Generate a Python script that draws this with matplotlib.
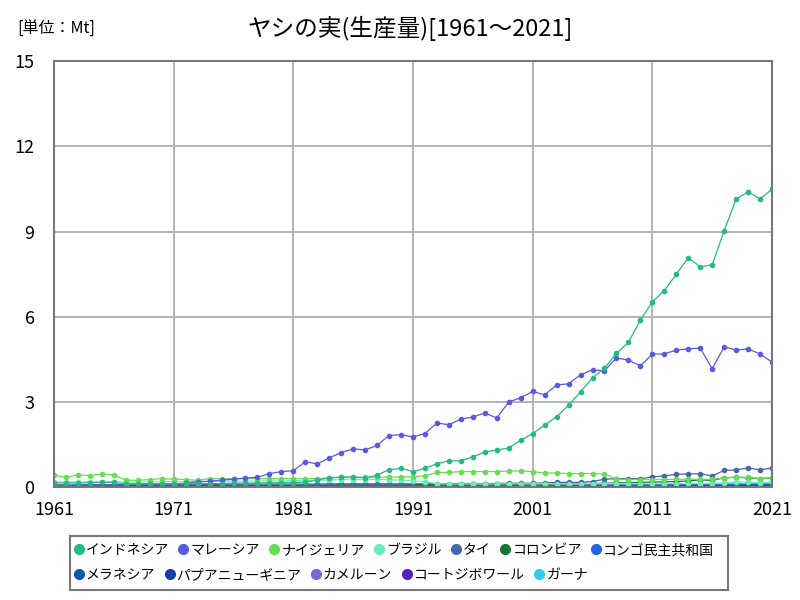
import matplotlib
matplotlib.use("Agg")
import matplotlib.pyplot as plt
from matplotlib.patches import Rectangle
from matplotlib.lines import Line2D

plt.rcParams['font.family'] = ['Noto Sans CJK JP', 'DejaVu Sans']

years = list(range(1961, 2022))

# 生産量 (Mt) 1961-2021
indonesia = [0.15, 0.15, 0.15, 0.16, 0.17, 0.17, 0.12, 0.12, 0.12, 0.12,
             0.12, 0.12, 0.12, 0.13, 0.13, 0.14, 0.14, 0.15, 0.15, 0.16,
             0.16, 0.18, 0.25, 0.33, 0.35, 0.35, 0.33, 0.42, 0.62, 0.66,
             0.55, 0.66, 0.83, 0.93, 0.93, 1.07, 1.24, 1.31, 1.38, 1.65,
             1.89, 2.19, 2.48, 2.89, 3.36, 3.85, 4.19, 4.71, 5.10, 5.88,
             6.53, 6.92, 7.50, 8.08, 7.76, 7.83, 9.03, 10.15, 10.40, 10.15, 10.49]
malaysia = [0.06, 0.06, 0.07, 0.07, 0.08, 0.08, 0.09, 0.10, 0.10, 0.11,
            0.12, 0.14, 0.19, 0.21, 0.25, 0.28, 0.33, 0.35, 0.48, 0.55,
            0.58, 0.90, 0.82, 1.03, 1.22, 1.35, 1.31, 1.47, 1.82, 1.85,
            1.77, 1.89, 2.26, 2.20, 2.40, 2.47, 2.61, 2.44, 3.00, 3.15,
            3.37, 3.25, 3.60, 3.64, 3.96, 4.13, 4.10, 4.55, 4.48, 4.27,
            4.69, 4.69, 4.83, 4.87, 4.90, 4.17, 4.94, 4.83, 4.87, 4.69, 4.41]
nigeria = [0.42, 0.35, 0.43, 0.41, 0.47, 0.43, 0.25, 0.24, 0.27, 0.30,
           0.28, 0.27, 0.24, 0.30, 0.30, 0.30, 0.30, 0.30, 0.30, 0.30,
           0.30, 0.30, 0.30, 0.33, 0.35, 0.36, 0.35, 0.35, 0.36, 0.36,
           0.37, 0.40, 0.52, 0.52, 0.55, 0.55, 0.55, 0.55, 0.57, 0.57,
           0.55, 0.50, 0.50, 0.48, 0.48, 0.48, 0.48, 0.28, 0.27, 0.27,
           0.27, 0.27, 0.28, 0.28, 0.28, 0.28, 0.33, 0.35, 0.35, 0.30, 0.33]
brazil = [0.18, 0.18, 0.18, 0.19, 0.19, 0.19, 0.18, 0.18, 0.19, 0.19,
          0.20, 0.20, 0.20, 0.20, 0.21, 0.21, 0.21, 0.22, 0.22, 0.22,
          0.23, 0.23, 0.24, 0.25, 0.27, 0.27, 0.27, 0.28, 0.26, 0.25,
          0.22, 0.20, 0.12, 0.11, 0.11, 0.12, 0.11, 0.11, 0.12, 0.12,
          0.12, 0.12, 0.12, 0.12, 0.12, 0.13, 0.13, 0.13, 0.13, 0.13,
          0.13, 0.13, 0.13, 0.13, 0.13, 0.13, 0.16, 0.18, 0.18, 0.16, 0.18]
thailand = [0.08, 0.08, 0.08, 0.09, 0.09, 0.09, 0.09, 0.10, 0.10, 0.10,
            0.10, 0.10, 0.10, 0.10, 0.10, 0.11, 0.11, 0.11, 0.11, 0.11,
            0.11, 0.11, 0.11, 0.12, 0.12, 0.12, 0.12, 0.12, 0.12, 0.12,
            0.12, 0.12, 0.12, 0.13, 0.13, 0.13, 0.13, 0.13, 0.14, 0.14,
            0.14, 0.15, 0.17, 0.17, 0.17, 0.20, 0.28, 0.30, 0.30, 0.30,
            0.36, 0.40, 0.45, 0.47, 0.47, 0.40, 0.59, 0.61, 0.68, 0.61, 0.68]
colombia = [0.05, 0.05, 0.05, 0.05, 0.05, 0.05, 0.05, 0.05, 0.06, 0.06,
            0.06, 0.06, 0.06, 0.06, 0.06, 0.06, 0.07, 0.07, 0.07, 0.07,
            0.07, 0.07, 0.07, 0.08, 0.08, 0.08, 0.08, 0.08, 0.08, 0.08,
            0.09, 0.09, 0.09, 0.09, 0.09, 0.10, 0.10, 0.10, 0.10, 0.10,
            0.11, 0.11, 0.12, 0.12, 0.13, 0.13, 0.14, 0.15, 0.16, 0.17,
            0.18, 0.19, 0.20, 0.22, 0.26, 0.24, 0.33, 0.35, 0.33, 0.30, 0.33]
congo = [0.04, 0.04, 0.04, 0.04, 0.04, 0.04, 0.04, 0.04, 0.04, 0.04,
         0.05, 0.05, 0.05, 0.05, 0.05, 0.05, 0.05, 0.05, 0.05, 0.05,
         0.06, 0.06, 0.06, 0.06, 0.06, 0.06, 0.06, 0.06, 0.06, 0.06,
         0.07, 0.07, 0.07, 0.07, 0.07, 0.07, 0.07, 0.07, 0.07, 0.07,
         0.07, 0.07, 0.07, 0.07, 0.08, 0.08, 0.08, 0.08, 0.08, 0.08,
         0.08, 0.08, 0.09, 0.09, 0.09, 0.09, 0.09, 0.10, 0.10, 0.10, 0.10]
melanesia = [0.06, 0.06, 0.06, 0.06, 0.06, 0.06, 0.06, 0.06, 0.06, 0.06,
             0.06, 0.06, 0.06, 0.06, 0.06, 0.06, 0.06, 0.06, 0.06, 0.06,
             0.06, 0.06, 0.06, 0.06, 0.06, 0.06, 0.06, 0.06, 0.06, 0.06,
             0.06, 0.06, 0.06, 0.06, 0.06, 0.06, 0.06, 0.06, 0.06, 0.06,
             0.06, 0.06, 0.06, 0.06, 0.06, 0.06, 0.06, 0.06, 0.06, 0.06,
             0.06, 0.06, 0.06, 0.06, 0.06, 0.06, 0.06, 0.06, 0.06, 0.06, 0.06]
png = [0.04, 0.04, 0.04, 0.04, 0.04, 0.04, 0.04, 0.04, 0.04, 0.04,
       0.04, 0.04, 0.04, 0.04, 0.04, 0.04, 0.04, 0.04, 0.04, 0.04,
       0.04, 0.04, 0.04, 0.04, 0.04, 0.04, 0.04, 0.04, 0.04, 0.04,
       0.04, 0.04, 0.04, 0.04, 0.04, 0.04, 0.04, 0.04, 0.04, 0.04,
       0.04, 0.04, 0.04, 0.04, 0.04, 0.04, 0.04, 0.04, 0.04, 0.04,
       0.04, 0.04, 0.04, 0.04, 0.04, 0.04, 0.04, 0.04, 0.04, 0.04, 0.04]
cameroon = [0.02, 0.02, 0.02, 0.02, 0.02, 0.02, 0.02, 0.02, 0.02, 0.02,
            0.02, 0.02, 0.02, 0.02, 0.02, 0.02, 0.02, 0.02, 0.02, 0.02,
            0.03, 0.03, 0.03, 0.03, 0.03, 0.03, 0.03, 0.03, 0.03, 0.03,
            0.03, 0.03, 0.03, 0.03, 0.03, 0.03, 0.03, 0.03, 0.03, 0.03,
            0.03, 0.03, 0.03, 0.03, 0.03, 0.03, 0.03, 0.03, 0.04, 0.04,
            0.04, 0.04, 0.04, 0.04, 0.04, 0.04, 0.04, 0.04, 0.04, 0.04, 0.04]
ivory = [0.02, 0.02, 0.02, 0.02, 0.02, 0.02, 0.02, 0.02, 0.02, 0.02,
         0.02, 0.02, 0.02, 0.02, 0.02, 0.02, 0.03, 0.03, 0.03, 0.03,
         0.03, 0.03, 0.03, 0.03, 0.03, 0.03, 0.03, 0.03, 0.03, 0.03,
         0.03, 0.03, 0.03, 0.03, 0.03, 0.03, 0.03, 0.03, 0.03, 0.03,
         0.03, 0.03, 0.03, 0.03, 0.03, 0.03, 0.03, 0.03, 0.03, 0.03,
         0.03, 0.03, 0.03, 0.03, 0.03, 0.03, 0.03, 0.03, 0.03, 0.03, 0.03]
ghana = [0.03, 0.03, 0.03, 0.03, 0.03, 0.03, 0.03, 0.03, 0.03, 0.03,
         0.03, 0.03, 0.03, 0.03, 0.03, 0.03, 0.03, 0.03, 0.03, 0.03,
         0.03, 0.03, 0.03, 0.03, 0.03, 0.03, 0.03, 0.03, 0.03, 0.04,
         0.04, 0.04, 0.04, 0.04, 0.04, 0.04, 0.04, 0.05, 0.05, 0.05,
         0.05, 0.05, 0.05, 0.05, 0.06, 0.06, 0.06, 0.06, 0.07, 0.07,
         0.08, 0.08, 0.09, 0.09, 0.10, 0.10, 0.11, 0.12, 0.12, 0.13, 0.13]

names = ['インドネシア', 'マレーシア', 'ナイジェリア', 'ブラジル', 'タイ', 'コロンビア',
         'コンゴ民主共和国', 'メラネシア', 'パプアニューギニア', 'カメルーン',
         'コートジボワール', 'ガーナ']
series = [indonesia, malaysia, nigeria, brazil, thailand, colombia,
          congo, melanesia, png, cameroon, ivory, ghana]
colors = ['#26b888', '#5a5ae0', '#66dd55', '#66eebb', '#4466aa', '#117733',
          '#2266dd', '#1155aa', '#1140aa', '#7766dd', '#5522bb', '#33ccee']

fig = plt.figure(figsize=(8, 6), dpi=100)
ax = fig.add_axes([0.0675, 0.188, 0.8975, 0.71])

# 小さい系列が下に来るよう逆順に描く
for name, vals, c in reversed(list(zip(names, series, colors))):
    ax.plot(years, vals, color=c, lw=0.9, marker='o', markersize=3, label=name)

ax.set_xlim(1961, 2021)
ax.set_ylim(0, 15)
ax.set_xticks(range(1961, 2022, 10))
ax.set_yticks(range(0, 16, 3))
ax.grid(True, color='#b4b4b4', lw=1.4)
ax.set_axisbelow(True)
for s in ax.spines.values():
    s.set_color('#777777')
    s.set_linewidth(1.5)
ax.tick_params(length=0, labelsize=13)
ax.tick_params(axis='x', pad=10)
ax.tick_params(axis='y', pad=14)

fig.text(0.5125, 0.953, 'ヤシの実(生産量)[1961～2021]', ha='center', va='center', fontsize=17)
fig.text(0.022, 0.951, '[単位：Mt]', ha='left', va='center', fontsize=11.5)

# 凡例: 2行を別々に詰めて並べる
def row_legend(idx, y):
    hs = [Line2D([], [], color=colors[i], marker='o', linestyle='', markersize=7) for i in idx]
    lg = fig.legend(hs, [names[i] for i in idx], loc='center left',
                    bbox_to_anchor=(0.094, y), ncol=len(idx), frameon=False,
                    fontsize=10, handlelength=0.5, handletextpad=0.25,
                    columnspacing=0.8, borderpad=0, borderaxespad=0)
    return lg

row_legend([0, 1, 2, 3, 4, 5, 6], 0.083)
row_legend([7, 8, 9, 10, 11], 0.042)
fig.patches.append(Rectangle((0.0875, 0.016), 0.823, 0.091, transform=fig.transFigure,
                             fill=False, edgecolor='#777777', lw=1.5))

fig.savefig('out.png', dpi=100)
